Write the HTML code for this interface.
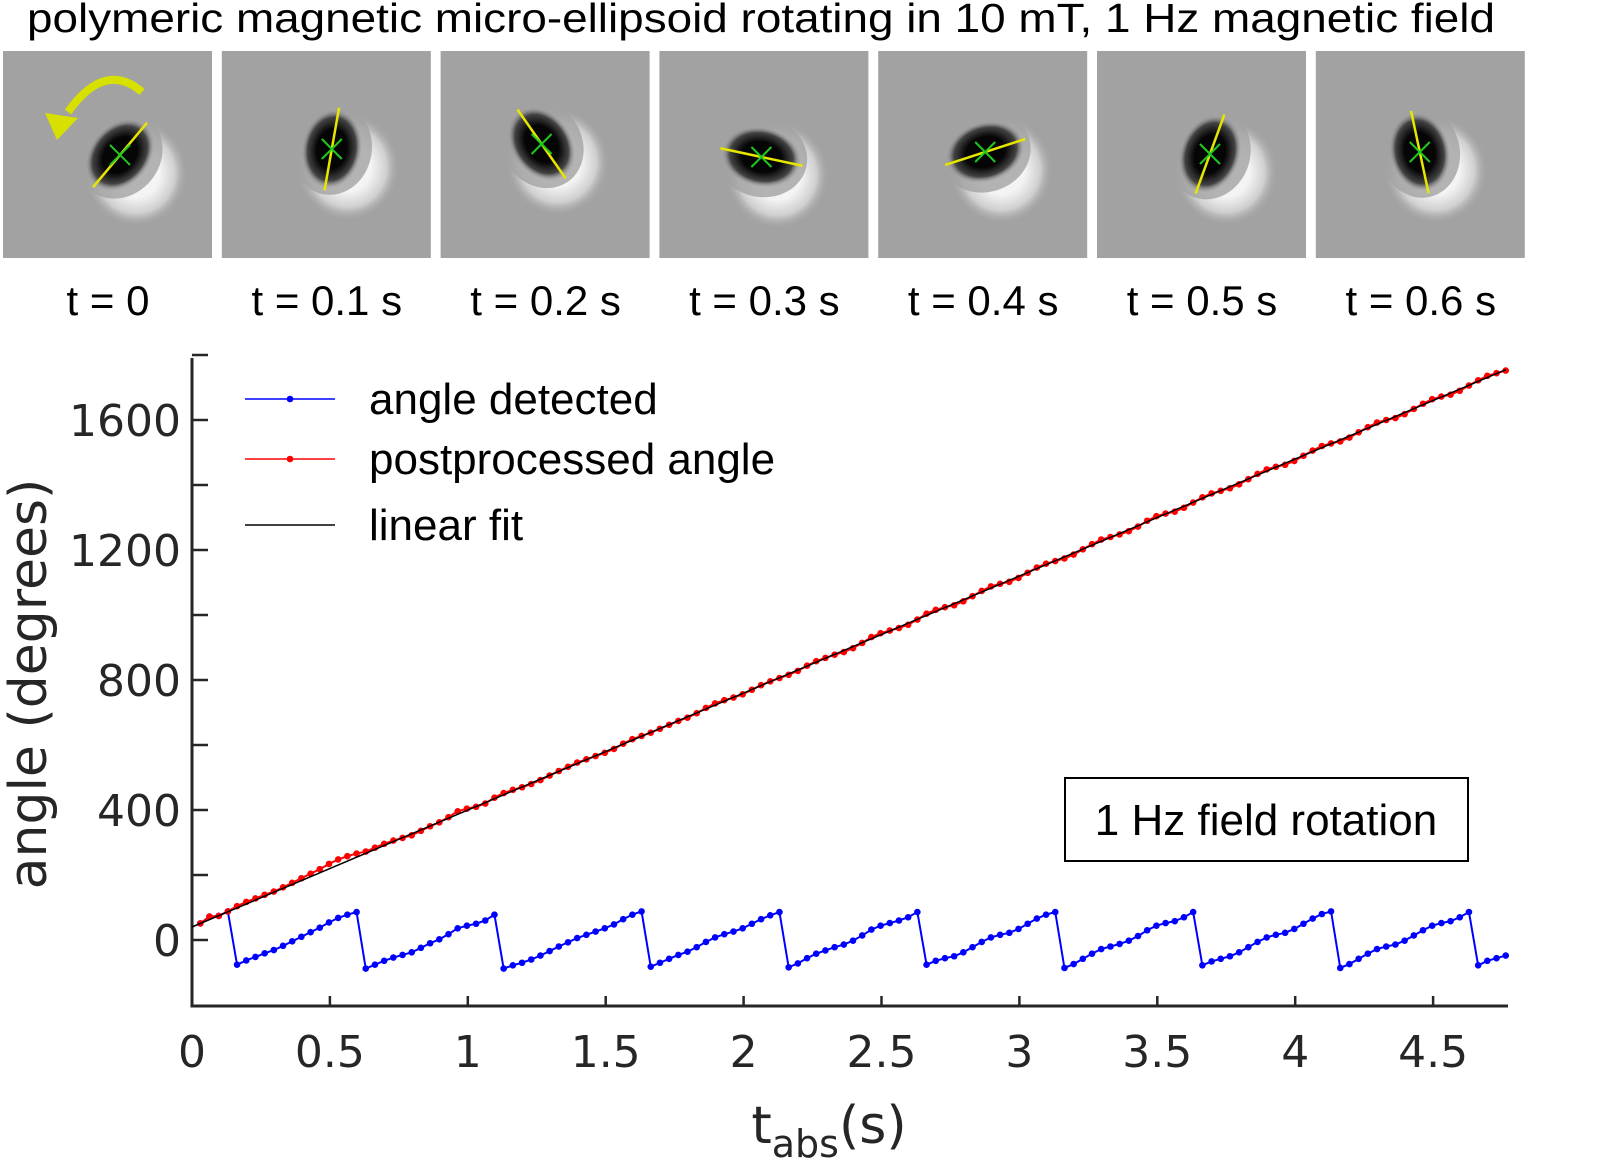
<!DOCTYPE html>
<html><head><meta charset="utf-8"><style>
html,body{margin:0;padding:0;background:#fff;}
svg{display:block;font-family:"Liberation Sans","DejaVu Sans",sans-serif;}
.ax{font-family:"DejaVu Sans","Liberation Sans",sans-serif;}
</style></head><body>
<svg id="fig" width="1600" height="1162" viewBox="0 0 1600 1162">
<defs>
<radialGradient id="dark" cx="0.5" cy="0.5" r="0.5"><stop offset="0.5" stop-color="#050505"/><stop offset="0.8" stop-color="#444"/><stop offset="1" stop-color="#a2a2a2" stop-opacity="0"/></radialGradient>
<radialGradient id="halo" cx="0.5" cy="0.5" r="0.5"><stop offset="0.45" stop-color="#f4f4f4"/><stop offset="0.75" stop-color="#cfcfcf"/><stop offset="1" stop-color="#a2a2a2" stop-opacity="0"/></radialGradient>
</defs>
<text x="27" y="32" font-size="41" textLength="1468" lengthAdjust="spacingAndGlyphs" fill="#000">polymeric magnetic micro-ellipsoid rotating in 10 mT, 1 Hz magnetic field</text>
<g id="tiles"></g>
<g id="plot"></g>
</svg>
<script>
// ----- chart data -----
const frameLabels = ["t = 0","t = 0.1 s","t = 0.2 s","t = 0.3 s","t = 0.4 s","t = 0.5 s","t = 0.6 s"];
const frameAngles = [-50,-80,55,12,-18,-70,78];
const t0 = 0.03, dt = 1/30;
const redAngle = [51,72,74,88,104,117,128,139,149,162,176,190,204,218,234,248,258,266,272,284,296,306,314,322,336,350,362,378,396,404,410,420,438,452,462,470,480,492,506,520,533,546,556,566,576,588,604,618,628,638,650,662,674,684,698,714,728,738,746,756,770,784,796,806,816,828,844,858,868,878,886,898,914,932,944,952,960,970,986,1004,1016,1024,1030,1042,1058,1074,1088,1096,1102,1114,1130,1146,1158,1166,1174,1186,1202,1218,1232,1240,1248,1258,1272,1290,1304,1312,1318,1330,1346,1362,1374,1382,1390,1402,1418,1434,1448,1456,1462,1474,1490,1506,1520,1528,1534,1546,1562,1578,1592,1600,1606,1618,1634,1650,1664,1672,1678,1690,1706,1722,1736,1744,1752];
const blueAngle = [51,72,74,88,-76,-63,-52,-41,-31,-18,
-4,10,24,38,54,68,78,86,-88,-76,
-64,-54,-46,-38,-24,-10,2,18,36,44,
50,60,78,-88,-78,-70,-60,-48,-34,-20,
-7,6,16,26,36,48,64,78,88,-82,
-70,-58,-46,-36,-22,-6,8,18,26,36,
50,64,76,86,-84,-72,-56,-42,-32,-22,
-14,-2,14,32,44,52,60,70,86,-76,
-64,-56,-50,-38,-22,-6,8,16,22,34,
50,66,78,86,-86,-74,-58,-42,-28,-20,
-12,-2,12,30,44,52,58,70,86,-78,
-66,-58,-50,-38,-22,-6,8,16,22,34,
50,66,80,88,-86,-74,-58,-42,-28,-20,
-14,-2,14,30,44,52,58,70,86,-78,
-64,-56,-48];
const fitSlope = 360, fitIntercept = 40;
const yTicks = [0,200,400,600,800,1000,1200,1400,1600,1800];
const yTickLabels = ["0","400","800","1200","1600"];
const xTicks = [0,0.5,1,1.5,2,2.5,3,3.5,4,4.5];
const xTickLabels = ["0","0.5","1","1.5","2","2.5","3","3.5","4","4.5"];

const NS="http://www.w3.org/2000/svg";
function mk(tag,attrs,parent){const e=document.createElementNS(NS,tag);for(const k in attrs)e.setAttribute(k,attrs[k]);parent.appendChild(e);return e;}

// ----- tiles -----
const tiles=document.getElementById('tiles');
const centers=[[117,104],[110,98],[101,93],[102,106],[107,101],[113,103],[104,101]];
for(let i=0;i<7;i++){
  const x0=3+i*218.8, y0=51;
  const g=mk('g',{transform:`translate(${x0},${y0})`},tiles);
  
  
  mk('rect',{x:0,y:0,width:209,height:207,fill:'#a2a2a2'},g);
  const [cx,cy]=centers[i];
  const a=frameAngles[i];
  mk('ellipse',{cx:cx+16,cy:cy+18,rx:52,ry:54,fill:'url(#halo)'},g);
  mk('ellipse',{cx:cx,cy:cy,rx:46,ry:40,fill:'#a2a2a2',opacity:0.8,transform:`rotate(${a} ${cx} ${cy})`},g);
  mk('ellipse',{cx:cx,cy:cy,rx:40,ry:30,fill:'url(#dark)',transform:`rotate(${a} ${cx} ${cy})`},g);
  const r=a*Math.PI/180, L=42;
  mk('line',{x1:cx-L*Math.cos(r),y1:cy-L*Math.sin(r),x2:cx+L*Math.cos(r),y2:cy+L*Math.sin(r),stroke:'#e6e600','stroke-width':2.5},g);
  mk('path',{d:`M${cx-10},${cy-10}L${cx+10},${cy+10}M${cx-10},${cy+10}L${cx+10},${cy-10}`,stroke:'#1ec81e','stroke-width':2},g);
  const lbl=mk('text',{x:x0+105,y:315,'font-size':42,'text-anchor':'middle',fill:'#000'},tiles);
  lbl.textContent=frameLabels[i];
  
  
}
const arr=mk('path',{d:'M142,92 Q105,60 68,112',fill:'none',stroke:'#d8e000','stroke-width':8},tiles);


const ah=mk('path',{d:'M45,113 L57,140 L78,118 Z',fill:'#d8e000'},tiles);



// ----- plot -----
const P=document.getElementById('plot');
const X0=192,X1=1508,Ytop=358,Ybot=1006;
const xs=t=>X0+t*275.8;
const ys=v=>940-v*0.325;

const ax=mk('path',{d:`M${X0},${Ytop}L${X0},${Ybot}L${X1},${Ybot}`,fill:'none',stroke:'#262626','stroke-width':3},P);


yTicks.forEach(v=>{const t=mk('line',{x1:X0,x2:X0+16,y1:ys(v),y2:ys(v),stroke:'#262626','stroke-width':2.5},P);

});
yTickLabels.forEach(s=>{const t=mk('text',{x:181,y:ys(+s)+16,'font-size':44,'text-anchor':'end',fill:'#262626',class:'ax'},P);t.textContent=s;

});
xTicks.forEach(v=>{const t=mk('line',{x1:xs(v),x2:xs(v),y1:Ybot,y2:Ybot-10,stroke:'#262626','stroke-width':2.5},P);

});
xTickLabels.forEach(s=>{const t=mk('text',{x:xs(+s),y:1067,'font-size':44,'text-anchor':'middle',fill:'#262626',class:'ax'},P);t.textContent=s;

});
const yl=mk('text',{x:0,y:0,'font-size':52,'text-anchor':'middle',fill:'#262626',class:'ax',transform:'translate(46,684) rotate(-90)'},P);
yl.textContent='angle (degrees)';


const xl=mk('text',{x:829,y:1143,'font-size':52,'text-anchor':'middle',fill:'#262626',class:'ax'},P);
xl.innerHTML='t<tspan font-size="38" dy="14">abs</tspan><tspan dy="-14">(s)</tspan>';



function series(arr,color,name){
  const g=mk('g',{},P);
  
  
  const pts=arr.map((v,i)=>[xs(t0+i*dt),ys(v)]);
  mk('polyline',{points:pts.map(p=>p.join(',')).join(' '),fill:'none',stroke:color,'stroke-width':2},g);
  pts.forEach(p=>{const c=mk('circle',{cx:p[0],cy:p[1],r:3.3,fill:color},g);
  
  });
}
series(blueAngle,'#0000ff','angle-detected-series');
series(redAngle,'#ff0000','postprocessed-angle-series');
const tEnd=t0+(redAngle.length-1)*dt;
const fit=mk('line',{x1:xs(0),y1:ys(fitIntercept),x2:xs(tEnd),y2:ys(fitIntercept+fitSlope*tEnd),stroke:'#000','stroke-width':1.5},P);



const leg=[['#0000ff','angle detected',399,true],['#ff0000','postprocessed angle',459,true],['#000','linear fit',525,false]];
leg.forEach(([c,s,y,dot])=>{
  const g=mk('g',{},P);
  
  
  mk('line',{x1:245,x2:335,y1:y,y2:y,stroke:c,'stroke-width':1.5},g);
  if(dot)mk('circle',{cx:290,cy:y,r:3.3,fill:c},g);
  const t=mk('text',{x:369,y:y+15,'font-size':44,fill:'#000'},g);t.textContent=s;
});
const ann=mk('g',{},P);


mk('rect',{x:1065,y:778,width:403,height:83,fill:'#fff',stroke:'#000','stroke-width':2},ann);
const at=mk('text',{x:1266,y:835,'font-size':44,'text-anchor':'middle',fill:'#000'},ann);at.textContent='1 Hz field rotation';
</script>
</body></html>
